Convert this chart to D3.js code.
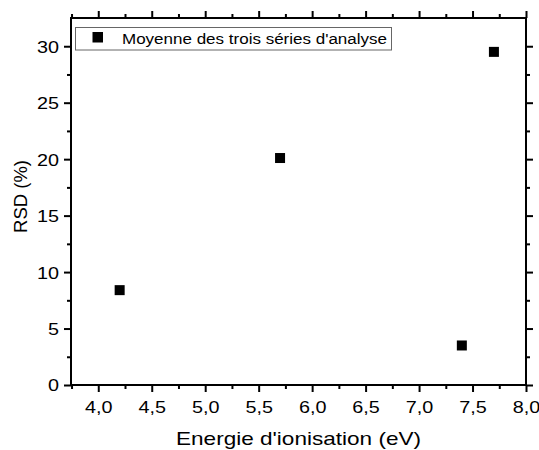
<!DOCTYPE html>
<html>
<head>
<meta charset="utf-8">
<script src="https://cdn.jsdelivr.net/npm/d3@7"></script>
<style>
body { margin:0; background:#fff; }
text { font-family: "Liberation Sans", Arial, sans-serif; fill:#000; }
</style>
</head>
<body>
<div id="chart"></div>
<script>
var energie = [4.2, 5.7, 7.4, 7.7];
var rsd = [8.4, 20.1, 3.5, 29.5];
var xTicks = [4.0, 4.5, 5.0, 5.5, 6.0, 6.5, 7.0, 7.5, 8.0];
var yTicks = [0, 5, 10, 15, 20, 25, 30];
var legendLabel = "Moyenne des trois séries d'analyse";

var W = 539, H = 450;
// plot edges (window.top is reserved, so prefixed names)
var pLeft = 71, pRight = 526, pTop = 18, pBottom = 385;
var stretch = 1.2; // texts in the picture are a bit wide

var svg = d3.select("#chart").append("svg")
	.attr("width", W)
	.attr("height", H);

var x = d3.scaleLinear().domain([3.745, 8.0]).range([pLeft, pRight]);
var y = d3.scaleLinear().domain([0, 32.5]).range([pBottom, pTop]);

var fmt = function(d){ return d3.format(".1f")(d).replace(".", ","); };

// minor ticks halfway between majors
var xMinor = d3.range(3.75, 8.01, 0.5);
var yMinor = d3.range(2.5, 32.5, 5);

function axisGroup(axis, tx, ty) {
	var g = svg.append("g").attr("transform", "translate(" + tx + "," + ty + ")").call(axis);
	g.select(".domain").remove();
	g.selectAll("line").attr("stroke", "#000").attr("stroke-width", 2);
	g.selectAll("text").style("font-size", "16.5px").style("font-family", "Liberation Sans, Arial, sans-serif");
	return g;
}

// bottom
var gx = axisGroup(d3.axisBottom(x).tickValues(xTicks).tickFormat(fmt).tickSize(7), 0, pBottom);
gx.selectAll("text")
	.attr("y", 28).attr("dy", 0)
	.attr("transform", "scale(" + stretch + ",1)");
axisGroup(d3.axisBottom(x).tickValues(xMinor).tickFormat("").tickSize(4), 0, pBottom);
// top
axisGroup(d3.axisTop(x).tickValues(xTicks).tickFormat("").tickSize(7), 0, pTop);
axisGroup(d3.axisTop(x).tickValues(xMinor).tickFormat("").tickSize(4), 0, pTop);
// left
var gy = axisGroup(d3.axisLeft(y).tickValues(yTicks).tickFormat(d3.format("d")).tickSize(7), pLeft, 0);
gy.selectAll("text")
	.attr("x", -12 / stretch).attr("dy", "0.36em")
	.attr("transform", "scale(" + stretch + ",1)");
axisGroup(d3.axisLeft(y).tickValues(yMinor).tickFormat("").tickSize(4), pLeft, 0);
// right
axisGroup(d3.axisRight(y).tickValues(yTicks).tickFormat("").tickSize(7), pRight, 0);
axisGroup(d3.axisRight(y).tickValues(yMinor).tickFormat("").tickSize(4), pRight, 0);

// frame
svg.append("rect")
	.attr("x", pLeft).attr("y", pTop)
	.attr("width", pRight - pLeft).attr("height", pBottom - pTop)
	.attr("fill", "none")
	.attr("stroke", "#000")
	.attr("stroke-width", 2);

// points
var pts = energie.map(function(d, i){ return {x: d, y: rsd[i]}; });
svg.append("g").selectAll("rect")
	.data(pts)
	.enter()
	.append("rect")
	.attr("x", function(d){ return x(d.x) - 5; })
	.attr("y", function(d){ return y(d.y) - 5; })
	.attr("width", 10)
	.attr("height", 10)
	.attr("fill", "#000");

// legend
var lg = svg.append("g");
lg.append("rect")
	.attr("x", 75.5).attr("y", 27.5)
	.attr("width", 316).attr("height", 22.5)
	.attr("fill", "#fff")
	.attr("stroke", "#666")
	.attr("stroke-width", 1);
lg.append("rect")
	.attr("x", 92.5).attr("y", 32)
	.attr("width", 10.5).attr("height", 10.5)
	.attr("fill", "#000");
lg.append("text")
	.attr("x", 122).attr("y", 44)
	.attr("textLength", 265)
	.attr("lengthAdjust", "spacingAndGlyphs")
	.style("font-size", "14px")
	.text(legendLabel);

// axis titles
svg.append("text")
	.attr("x", (pLeft + pRight) / 2).attr("y", 445)
	.attr("text-anchor", "middle")
	.attr("textLength", 245)
	.attr("lengthAdjust", "spacingAndGlyphs")
	.style("font-size", "18.5px")
	.text("Energie d'ionisation (eV)");

svg.append("text")
	.attr("transform", "translate(27,196.5) rotate(-90)")
	.attr("text-anchor", "middle")
	.style("font-size", "18.5px")
	.text("RSD (%)");
</script>
</body>
</html>
